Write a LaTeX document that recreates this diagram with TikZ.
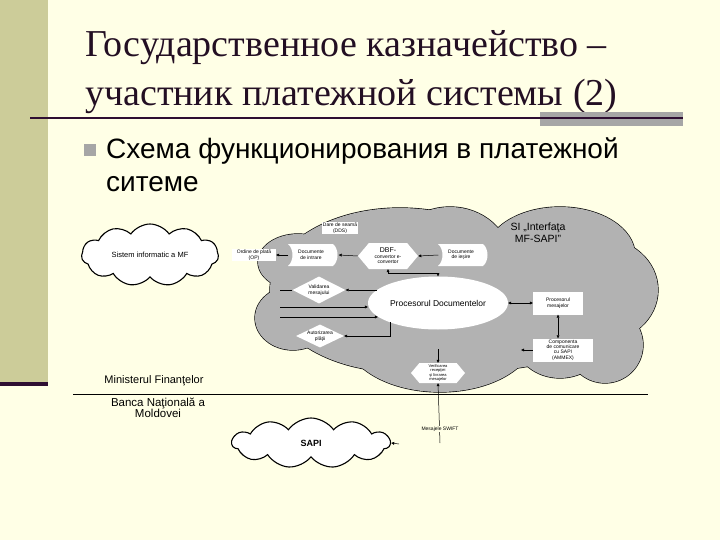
\documentclass[tikz,border=0pt]{standalone}
\usepackage{fontspec}
\setmainfont{Liberation Sans}
\newfontfamily\serifT{Liberation Serif}
\usetikzlibrary{shapes.geometric,shapes.symbols,arrows.meta}
\definecolor{bgcream}{RGB}{255,255,230}
\definecolor{band}{RGB}{204,204,153}
\definecolor{darkp}{RGB}{46,14,50}
\definecolor{cgray}{RGB}{178,178,178}
\definecolor{bulletgray}{RGB}{166,166,166}
\definecolor{titleink}{RGB}{35,15,35}
\begin{document}
\begin{tikzpicture}[x=1pt,y=-1pt,
  arr/.style={-{Triangle[length=3pt,width=2.8pt]}, line width=0.5pt},
  arrtwo/.style={{Triangle[length=3pt,width=2.8pt]}-{Triangle[length=3pt,width=2.8pt]}, line width=0.5pt},
  tiny/.style={font=\fontsize{5}{5.6}\selectfont, align=center, inner sep=0.5pt},
  lab/.style={tiny, fill=white},
  wbox/.style={tiny, fill=white, rectangle},
  dia/.style={tiny, diamond, fill=white, aspect=2, inner sep=0pt},
  hexa/.style={tiny, signal, signal to=east and west, signal pointer angle=100, fill=white, inner sep=0pt},
  wcloud/.style={cloud, draw=black, line width=1.1pt, fill=white, cloud puffs=11, cloud puff arc=110, aspect=2.3, inner sep=0pt}
]
\useasboundingbox (0,0) rectangle (720,540);
\fill[bgcream] (0,0) rectangle (720,540);
\fill[band] (0,0) rectangle (48,382);
\fill[darkp] (0,382) rectangle (48,386);

% title
\node[anchor=base west, font=\serifT\fontsize{38}{38}\selectfont, text=titleink, inner sep=0] (t1) at (85,57) {Государственное казначейство –};
\node[anchor=base west, font=\serifT\fontsize{38}{38}\selectfont, text=titleink, inner sep=0] (t2) at (85,106) {участник платежной системы (2)};
\fill[bulletgray] (540,112) rectangle (683,126);
\draw[darkp, line width=2pt] (30,118) -- (683,118);
\fill[bulletgray] (84,144) rectangle (96,156);
\node[anchor=base west, font=\fontsize{28}{28}\selectfont, inner sep=0] (b1) at (106,159) {Схема функционирования в платежной};
\node[anchor=base west, font=\fontsize{28}{28}\selectfont, inner sep=0] (b2) at (106,192) {ситеме};

% big gray cloud (union of ellipses)
\foreach \cx/\cy/\rx/\ry in {400/290/130/82, 450/260/60/53, 560/255/75/48, 600/290/58/52, 605/345/38/38, 560/340/45/38, 440/335/95/57, 460/300/175/72, 298/262/40/28, 293/318/38/32}
  \draw[line width=1.3pt] (\cx,\cy) ellipse [x radius=\rx pt, y radius=\ry pt];
\foreach \cx/\cy/\rx/\ry in {400/290/130/82, 450/260/60/53, 560/255/75/48, 600/290/58/52, 605/345/38/38, 560/340/45/38, 440/335/95/57, 460/300/175/72, 298/262/40/28, 293/318/38/32}
  \fill[cgray] (\cx,\cy) ellipse [x radius=\rx pt, y radius=\ry pt];

\node[font=\fontsize{10.5}{12.5}\selectfont, align=center] (si) at (538,233) {SI „Interfaţa\\MF-SAPI”};

% white clouds
\node[wcloud, minimum width=137pt, minimum height=62pt] (simf) at (150,255) {\fontsize{7.5}{8}\selectfont Sistem informatic a MF};
\node[wcloud, minimum width=158pt, minimum height=50pt] (sapi) at (311,443) {\fontsize{9}{9}\selectfont\bfseries SAPI};

% labels
\node[lab] (dds) at (340,228) {Dare de seamă\\(DDS)};
\node[lab, minimum width=44pt, minimum height=11pt] (op) at (254,255) {Ordine de plată\\(OP)};

% document shapes
\fill[white] (288,244) -- (333,244) .. controls +(6,5) and +(6,-5) .. (333,266) -- (288,266) .. controls +(6,-5) and +(6,5) .. (288,244);
\node[tiny, minimum width=45pt, minimum height=22pt] (din) at (311,255) {Documente\\de intrare};
\fill[white] (438,244) -- (483,244) .. controls +(6,5) and +(6,-5) .. (483,266) -- (438,266) .. controls +(6,-5) and +(6,5) .. (438,244);
\node[tiny, minimum width=45pt, minimum height=22pt] (dies) at (461,255) {Documente\\de ieşire};

\node[hexa, minimum width=60pt, minimum height=26pt] (dbf) at (388,256) {{\fontsize{7}{7}\selectfont DBF-}\\convertor e-\\convertor};

\node[ellipse, fill=white, minimum width=140pt, minimum height=53pt, inner sep=0pt, font=\fontsize{8.5}{8.5}\selectfont] (proc) at (438,303) {Procesorul Documentelor};

\node[dia, minimum width=53pt, minimum height=27pt] (val) at (319,290) {Validarea\\mesajului};
\node[dia, minimum width=48pt, minimum height=23pt] (aut) at (320,336) {Autorizarea\\plăţii};

\node[wbox, minimum width=50pt, minimum height=23pt] (pm) at (558,303) {Procesorul\\mesajelor};
\node[wbox, minimum width=60pt, minimum height=23pt, font=\fontsize{5}{5.4}\selectfont] (comp) at (563,350) {Componenta\\de comunicare\\cu SAPI\\(AMMEX)};

\node[hexa, minimum width=54pt, minimum height=20pt, font=\fontsize{4}{4.6}\selectfont] (ver) at (438,373) {Verificarea\\recepţiei\\şi livrarea\\mesajelor};

% coordinates
\coordinate (l1) at (280,290);
\coordinate (l2) at (280,307);
\coordinate (l3) at (280,317);
\coordinate (c1) at (521,350);
\coordinate (c2) at (438,349);
\coordinate (c3) at (440,443);
\coordinate (c4) at (399,444);
\coordinate (sepL) at (73,394);
\coordinate (sepR) at (648,394);

% connectors
\draw[arr] (din.west) -- (op.east);
\draw[arr] (dbf.west) -- ([xshift=5pt]din.east);
\draw[arr] (dies.west) -- (dbf.east);
\draw[arrtwo] (dbf.south) -- ++(0,4) -| (proc.north);
\draw[line width=0.5pt] (l1) -- (val.west);
\draw[arr] (proc.west |- val.east) ++(9,0) -- (val.east);
\draw[arr] (l2) -- (l2 -| proc.west);
\draw[arr] (l3) -- (l3 -| proc.193);
\draw[arr] (proc.202) |- (aut.east);
\draw[arrtwo] (proc.east) -- (pm.west);
\draw[arrtwo] (pm.south) -- (pm.south |- comp.north);
\draw[arr] (comp.west) -- (c1);
\draw[arr] (c2) -- (ver.north);
\draw[arr] (c3) -- (ver.south);
\draw[arr] (c4) -- (sapi.east);
\node[fill=bgcream, inner sep=1pt, font=\fontsize{5}{5}\selectfont] (swift) at (440,429) {Mesajele SWIFT};

% separator
\node[font=\fontsize{11}{12}\selectfont] (mf) at (154,381) {Ministerul Finanţelor};
\draw[line width=0.9pt] (sepL) -- (sepR);
\node[font=\fontsize{11.5}{11.5}\selectfont, align=center] (bnm) at (158,408) {Banca Naţională a\\Moldovei};
\end{tikzpicture}
\end{document}
